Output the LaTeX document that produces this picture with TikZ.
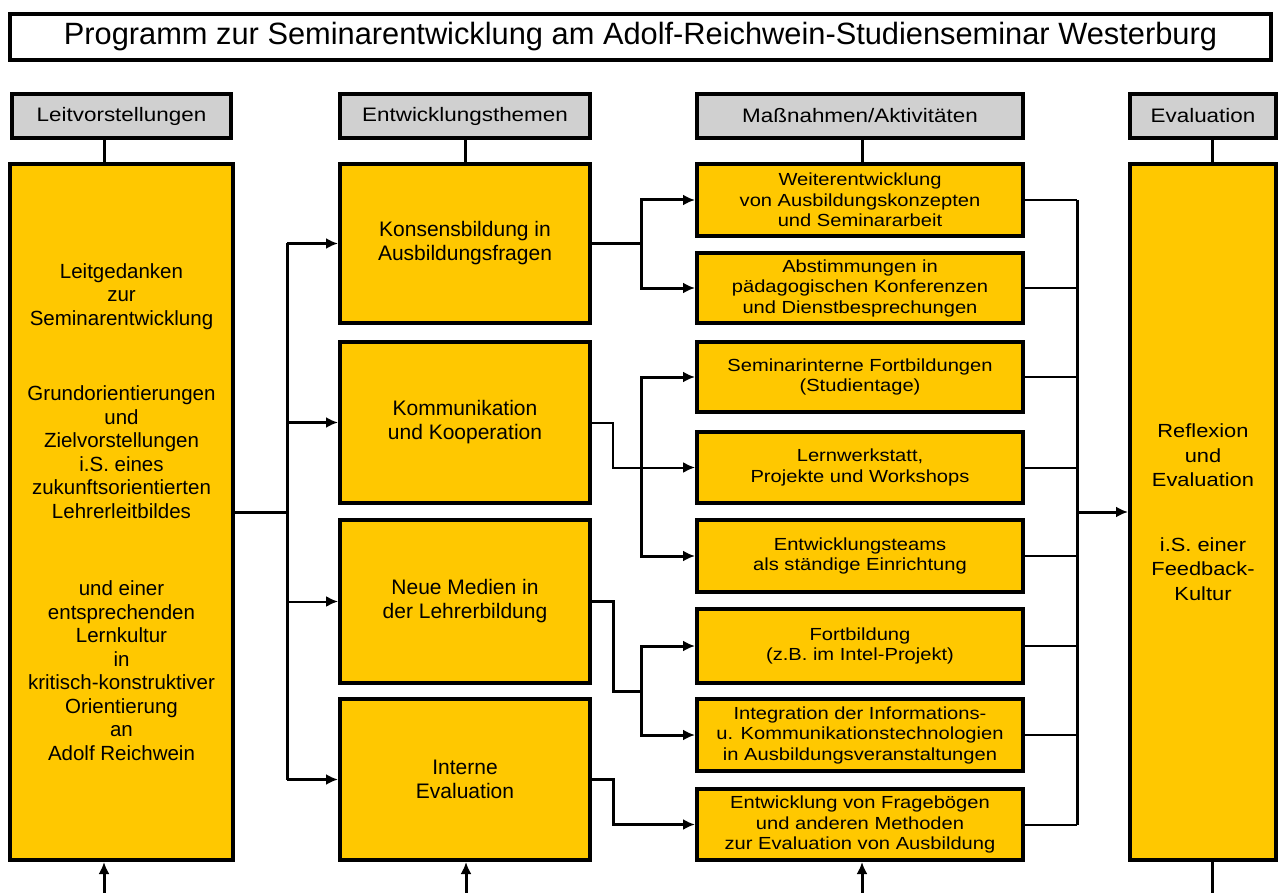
\documentclass[tikz,border=0pt]{standalone}
\usepackage{fontspec}
\setmainfont{Liberation Sans}
\newfontfamily\widefont[FakeStretch=1.15]{Liberation Sans}
\usetikzlibrary{positioning,arrows.meta}

\definecolor{boxyellow}{RGB}{255,200,0}
\definecolor{headgray}{RGB}{208,208,208}

\begin{document}
\begin{tikzpicture}[x=1pt, y=-1pt, >={Latex[length=12pt,width=11pt]},
			box/.style={
				draw,
				line width=4pt,
				fill=boxyellow,
				align=center,
				inner sep=0pt
			},
			head/.style={box, fill=headgray, minimum height=44pt,
				font=\widefont\fontsize{19.5}{23}\selectfont},
			bigbox/.style={box, font=\fontsize{20.5}{23.5}\selectfont},
			themebox/.style={box, minimum width=250pt, font=\fontsize{21}{24}\selectfont},
			actbox/.style={box, minimum width=326pt, font=\widefont\fontsize{17.5}{20.5}\selectfont},
			conn/.style={line width=3pt},
			thinconn/.style={line width=2pt}]
			
			\useasboundingbox (0,0) rectangle (1279,893);
			
			\node[box, fill=white, minimum width=1261pt, minimum height=46pt,
				font=\fontsize{30.8}{36}\selectfont] (title) at (640.5,37)
				{Programm zur Seminarentwicklung am Adolf-Reichwein-Studienseminar Westerburg};
			
			% column heads
			\node[head, minimum width=219pt] (hleit) at (121.5,116){Leitvorstellungen};
			
			\node[head, minimum width=250pt] (hthem) at (465,116){Entwicklungsthemen};
			
			\node[head, minimum width=326pt] (hmass) at (860,116){Maßnahmen/Aktivitäten};
			
			\node[head, minimum width=146pt] (heval) at (1203,116){Evaluation};
			
			% Leitvorstellungen
			\node[bigbox, minimum width=223pt, minimum height=696pt] (leit) at (121.5,512)
				{Leitgedanken\\zur\\Seminarentwicklung\\[52pt]
				Grundorientierungen\\und\\Zielvorstellungen\\i.S. eines\\zukunftsorientierten\\Lehrerleitbildes\\[54pt]
				und einer\\entsprechenden\\Lernkultur\\in\\kritisch-konstruktiver\\Orientierung\\an\\Adolf Reichwein};
			
			% Entwicklungsthemen
			\node[themebox, minimum height=159pt] (konsens) at (465,243.5){Konsensbildung in\\Ausbildungsfragen};
			
			\node[themebox, minimum height=161pt] (komm) at (465,422.5){Kommunikation\\und Kooperation};
			
			\node[themebox, minimum height=163pt] (medien) at (465,601.5){Neue Medien in\\der Lehrerbildung};
			
			\node[themebox, minimum height=161pt] (intern) at (465,779.5){Interne\\Evaluation};
			
			% Massnahmen/Aktivitaeten
			\node[actbox, minimum height=72pt] (weiter) at (860,200){Weiterentwicklung\\von Ausbildungskonzepten\\und Seminararbeit};
			
			\node[actbox, minimum height=70pt] (abstimm) at (860,288){Abstimmungen in\\pädagogischen Konferenzen\\und Dienstbesprechungen};
			
			\node[actbox, minimum height=70pt] (fortsem) at (860,377){Seminarinterne Fortbildungen\\(Studientage)};
			
			\node[actbox, minimum height=71pt] (lernw) at (860,467.5){Lernwerkstatt,\\Projekte und Workshops};
			
			\node[actbox, minimum height=72pt] (teams) at (860,556){Entwicklungsteams\\als ständige Einrichtung};
			
			\node[actbox, minimum height=74pt] (fortintel) at (860,646){Fortbildung\\(z.B. im Intel-Projekt)};
			
			\node[actbox, minimum height=72pt] (iuk) at (860,735){Integration der Informations-\\u. Kommunikationstechnologien\\in Ausbildungsveranstaltungen};
			
			\node[actbox, minimum height=71pt] (frageb) at (860,824.5){Entwicklung von Fragebögen\\und anderen Methoden\\zur Evaluation von Ausbildung};
			
			% Evaluation
			\node[bigbox, minimum width=146pt, minimum height=696pt,
				font=\widefont\fontsize{19}{24.5}\selectfont] (eval) at (1203,512)
				{Reflexion\\und\\Evaluation\\[40pt]i.S. einer\\Feedback-\\Kultur};
			
			% head lines
			\draw[conn]([xshift=-17.5pt]hleit.south)--([xshift=-17.5pt]leit.north);
			
			\draw[conn](hthem)--(konsens);
			
			\draw[conn]([xshift=2pt]hmass.south)--([xshift=2pt]weiter.north);
			
			\draw[conn]([xshift=9pt]heval.south)--([xshift=9pt]eval.north);
			
			% Leitvorstellungen -> Entwicklungsthemen
			\coordinate (lbus) at (287,0);
			
			\draw[conn](leit)--(lbus |- leit);
			
			\draw[conn](lbus |- konsens)--(lbus |- intern);
			
			\draw[conn,->](lbus |- konsens)--(konsens);
			
			\draw[conn,->](lbus |- komm)--(komm);
			
			\draw[thinconn,->](lbus |- medien)--(medien);
			
			\draw[conn,->](lbus |- intern)--(intern);
			
			% Entwicklungsthemen -> Massnahmen
			\coordinate (mbus) at (641,0);
			
			\coordinate (step) at (613,0);
			
			\draw[conn](konsens)--(mbus |- konsens);
			
			\draw[conn,->](mbus |- konsens)|-(weiter);
			
			\draw[conn,->](mbus |- konsens)|-(abstimm);
			
			\draw[thinconn,->](komm)--(step |- komm)|-(lernw);
			
			\draw[conn,->](mbus |- lernw)|-(fortsem);
			
			\draw[conn,->](mbus |- lernw)|-(teams);
			
			\coordinate (jmed) at (641,691);
			
			\draw[conn](medien)--(step |- medien)|-(jmed);
			
			\draw[conn,->](jmed)|-(fortintel);
			
			\draw[conn,->](jmed)|-(iuk);
			
			\draw[conn,->](intern)--(step |- intern)|-(frageb);
			
			% Massnahmen -> Evaluation
			\coordinate (rbus) at (1077,0);
			
			\foreach \act in {weiter,abstimm,fortsem,lernw,teams,fortintel,iuk,frageb}
				\draw[thinconn](\act)--(rbus |- \act);
			
			\draw[conn](rbus |- weiter)--(rbus |- frageb);
			
			\draw[conn,->](rbus |- eval)--(eval);
			
			% arrows from below
			\draw[conn,->]([xshift=-17.5pt]leit.south)++(0,31)--([xshift=-17.5pt]leit.south);
			
			\draw[conn,->]([xshift=1pt]intern.south)++(0,31)--([xshift=1pt]intern.south);
			
			\draw[conn,->]([xshift=2pt]frageb.south)++(0,31)--([xshift=2pt]frageb.south);
			
			\draw[conn]([xshift=9pt]eval.south)--++(0,31);
			
		\end{tikzpicture}
\end{document}
